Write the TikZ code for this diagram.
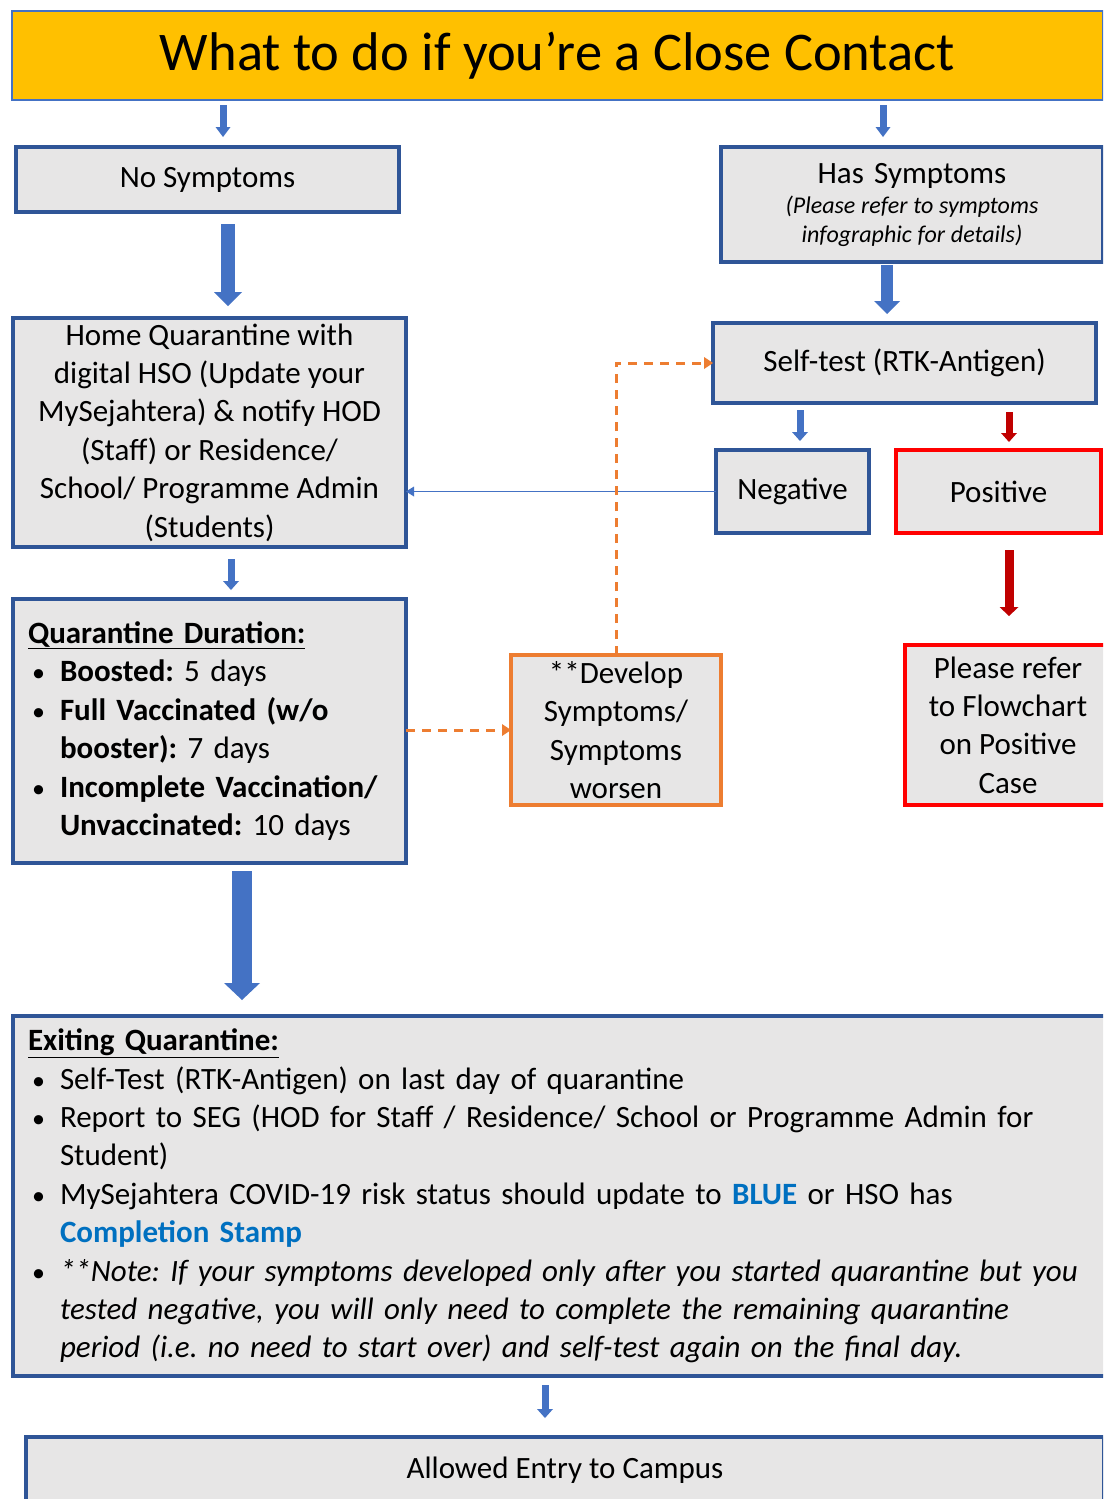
\documentclass[tikz,border=0pt]{standalone}
\usepackage{fontspec}
\setmainfont{Carlito}
\usetikzlibrary{arrows.meta}
\definecolor{boxblue}{HTML}{2F5597}
\definecolor{arrblue}{HTML}{4472C4}
\definecolor{boxgray}{HTML}{E7E6E6}
\definecolor{gold}{HTML}{FFC000}
\definecolor{redline}{HTML}{FF0000}
\definecolor{darkred}{HTML}{C00000}
\definecolor{orangeline}{HTML}{ED7D31}
\definecolor{textblue}{HTML}{0070C0}
\newcommand{\bul}{\makebox[32pt][l]{\hspace{4pt}{\fontsize{26}{0}\selectfont\textbullet}}}
\newcommand{\ind}{\hspace*{32pt}}
\begin{document}
\frenchspacing
\begin{tikzpicture}[x=1pt,y=-1pt,
  every node/.style={outer sep=0pt, inner sep=0pt},
  box/.style={draw=boxblue, line width=4pt, fill=boxgray, rectangle, anchor=north west,
    align=center, font=\fontsize{31}{38.4}\selectfont\frenchspacing},
  redbox/.style={box, draw=redline},
  orbox/.style={box, draw=orangeline},
  blk/.style n args={3}{line width=#1pt, -{Triangle[width=#2pt,length=#3pt,line width=0pt]}},
  bluearr/.style n args={3}{draw=arrblue, blk={#1}{#2}{#3}},
  redarr/.style n args={3}{draw=darkred, blk={#1}{#2}{#3}},
  orangedash/.style={draw=orangeline, line width=3pt, dash pattern=on 9pt off 7pt,
    -{Triangle[width=12pt,length=9pt,line width=0pt]}},
]
\useasboundingbox (0,0) rectangle (1103,1499);
\clip (0,0) rectangle (1103,1499);
\fill[white] (0,0) rectangle (1103,1499);

% title
\node[draw=arrblue, line width=1.5pt, fill=gold, anchor=north west, minimum width=1091,
  minimum height=89, font=\fontsize{54.5}{60}\selectfont] (title) at (12,11)
  {What to do if you’re a Close Contact};

% boxes
\node[box, minimum width=383, minimum height=65] (ns) at (16,147) {No Symptoms};
\node[box, minimum width=382, minimum height=115, text width=378] (has) at (721,147)
  {Has Symptoms\par\vspace{1pt}{\fontsize{24}{29}\selectfont\itshape\spaceskip=0.24em (Please refer to symptoms\\ infographic for details)\par}};
\node[box, minimum width=393, minimum height=229] (hq) at (13,318)
  {Home Quarantine with\\ digital HSO (Update your\\ MySejahtera) \& notify HOD\\ (Staff) or Residence/\\ School/ Programme Admin\\ (Students)};
\node[box, minimum width=383, minimum height=80] (self) at (713,323) {Self-test (RTK-Antigen)};
\node[box, minimum width=153, minimum height=83] (neg) at (716,450) {Negative};
\node[redbox, minimum width=205, minimum height=83] (pos) at (896,450) {Positive};
\node[redbox, minimum width=206, minimum height=160] (please) at (905,645)
  {Please refer\\ to Flowchart\\ on Positive\\ Case};
\node[box, minimum width=393, minimum height=264, align=left, text width=363, inner xsep=15pt] (qd) at (13,599)
  {\underline{\textbf{Quarantine Duration:}}\\
   \bul\textbf{Boosted:} 5 days\\
   \bul\textbf{Full Vaccinated (w/o}\\
   \ind\textbf{booster):} 7 days\\
   \bul\textbf{Incomplete Vaccination/}\\
   \ind\textbf{Unvaccinated:} 10 days};
\node[orbox, minimum width=210, minimum height=150] (dev) at (511,655)
  {**Develop\\ Symptoms/\\ Symptoms\\ worsen};
\node[box, minimum width=1100, minimum height=360, align=left, text width=1070, inner xsep=15pt] (exit) at (13,1016)
  {\underline{\textbf{Exiting Quarantine:}}\\
   \bul Self-Test (RTK-Antigen) on last day of quarantine\\
   \bul Report to SEG (HOD for Staff / Residence/ School or Programme Admin for\\
   \ind Student)\\
   \bul MySejahtera COVID-19 risk status should update to \textcolor{textblue}{\textbf{BLUE}} or HSO has\\
   \ind\textcolor{textblue}{\textbf{Completion Stamp}}\\
   \bul\textit{**Note: If your symptoms developed only after you started quarantine but you}\\
   \ind\textit{tested negative, you will only need to complete the remaining quarantine}\\
   \ind\textit{period (i.e. no need to start over) and self-test again on the final day.}};
\node[box, minimum width=1078, minimum height=66] (allow) at (26,1437) {Allowed Entry to Campus};

% block arrows
\draw[bluearr={7}{15}{10}, shorten <=5pt, shorten >=10pt] (title.south -| 223,0) -- (ns.north -| 223,0);
\draw[bluearr={7}{15}{10}, shorten <=5pt, shorten >=10pt] (title.south -| 883,0) -- (has.north -| 883,0);
\draw[bluearr={14}{28}{14}, shorten <=12pt, shorten >=12pt] (ns.south -| 228,0) -- (hq.north -| 228,0);
\draw[bluearr={12}{26}{13}, shorten <=3pt, shorten >=9pt] (has.south -| 887,0) -- (self.north -| 887,0);
\draw[bluearr={7}{16}{9}, shorten <=7pt, shorten >=9pt] (self.south -| 800,0) -- (neg.north -| 800,0);
\draw[redarr={7}{16}{9}, shorten <=9pt, shorten >=8pt] (self.south -| 1009,0) -- (pos.north -| 1009,0);
\draw[redarr={9}{19}{9}, shorten <=17pt, shorten >=29pt] (pos.south -| 1009,0) -- (please.north -| 1009,0);
\draw[bluearr={7}{16}{9}, shorten <=12pt, shorten >=9pt] (hq.south -| 231,0) -- (qd.north -| 231,0);
\draw[bluearr={20}{36}{17}, shorten <=8pt, shorten >=16pt] (qd.south -| 242,0) -- (exit.north -| 242,0);
\draw[bluearr={7}{16}{9}, shorten <=9pt, shorten >=19pt] (exit.south -| 545,0) -- (allow.north -| 545,0);

% thin connector
\draw[arrblue, line width=1.5pt, -{Triangle[width=10pt,length=8pt,line width=0pt]}] (neg.west) -- (neg.west -| hq.east);

% orange dashed connectors
\draw[orangedash] (qd.east |- dev.west) -- (dev.west);
\draw[orangedash] (dev.north) |- (self.west);
\end{tikzpicture}
\end{document}
